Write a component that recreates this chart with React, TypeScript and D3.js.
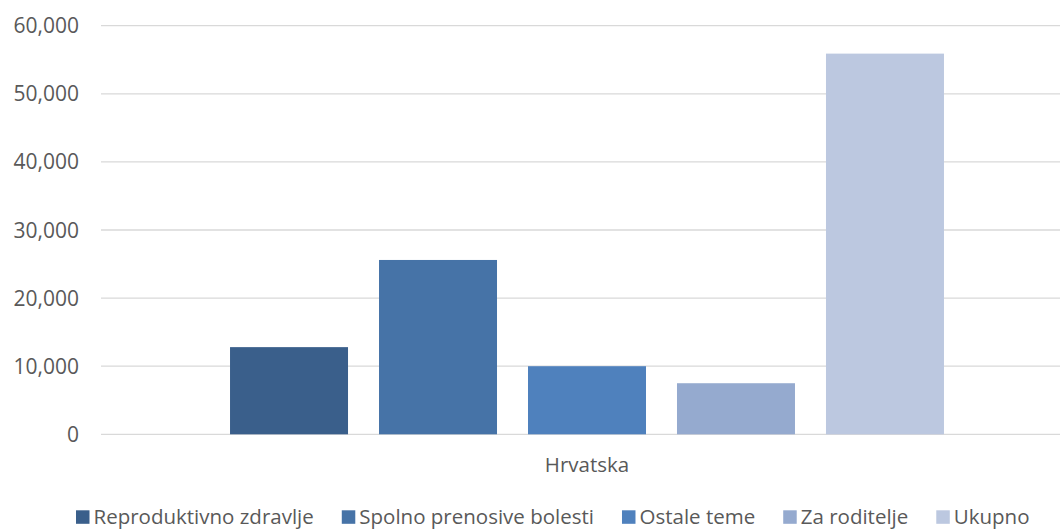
import React, { useEffect, useRef } from "react";
import * as d3 from "d3";

const categories = ["Hrvatska"];
const seriesNames = [
  "Reproduktivno zdravlje",
  "Spolno prenosive bolesti",
  "Ostale teme",
  "Za roditelje",
  "Ukupno",
];
const seriesValues = [12800, 25600, 10000, 7500, 55900];
const seriesColors = ["#3A5F8B", "#4673A7", "#4F81BD", "#95AACF", "#BCC8E0"];
const yTicks = [0, 10000, 20000, 30000, 40000, 50000, 60000];

const W = 1060;
const H = 530;
const FONT = "'Open Sans', sans-serif";
const TEXT = "#595959";

export default function App() {
  const ref = useRef<SVGSVGElement | null>(null);

  useEffect(() => {
    const svg = d3.select(ref.current);
    svg.selectAll("*").remove();

    const plotLeft = 101;
    const plotRight = 1073;
    const y = d3.scaleLinear().domain([0, 60000]).range([434.3, 25.7]);
    const x0 = d3.scaleBand().domain(categories).range([plotLeft, plotRight]).paddingOuter(0.1524).paddingInner(0);
    const x1 = d3
      .scaleBand()
      .domain(seriesNames)
      .range([0, x0.bandwidth()])
      .paddingInner(31 / 149)
      .paddingOuter(31 / 149 / 2);

    // gridlines
    svg
      .append("g")
      .selectAll("line")
      .data(yTicks)
      .join("line")
      .attr("x1", plotLeft)
      .attr("x2", W)
      .attr("y1", (d) => y(d))
      .attr("y2", (d) => y(d))
      .attr("stroke", "#D9D9D9")
      .attr("stroke-width", 1.3);

    // y labels
    svg
      .append("g")
      .selectAll("text")
      .data(yTicks)
      .join("text")
      .attr("x", 79)
      .attr("y", (d) => y(d))
      .attr("dy", "0.36em")
      .attr("text-anchor", "end")
      .attr("font-family", FONT)
      .attr("font-size", 21)
      .attr("fill", TEXT)
      .text((d) => d3.format(",")(d));

    // bars
    categories.forEach((cat) => {
      const g = svg.append("g").attr("transform", `translate(${x0(cat)},0)`);
      g.selectAll("rect")
        .data(seriesNames.map((n, i) => ({ n, v: seriesValues[i], c: seriesColors[i] })))
        .join("rect")
        .attr("x", (d) => x1(d.n)!)
        .attr("width", x1.bandwidth())
        .attr("y", (d) => y(d.v))
        .attr("height", (d) => y(0) - y(d.v))
        .attr("fill", (d) => d.c);

      svg
        .append("text")
        .attr("x", x0(cat)! + x0.bandwidth() / 2)
        .attr("y", 472)
        .attr("text-anchor", "middle")
        .attr("font-family", FONT)
        .attr("font-size", 20.5)
        .attr("fill", TEXT)
        .text(cat);
    });

    // legend
    const lg = svg.append("g");
    const items = seriesNames.map((n, i) => {
      const g = lg.append("g");
      g.append("rect").attr("width", 13.5).attr("height", 13.5).attr("y", -13.7).attr("fill", seriesColors[i]);
      const t = g
        .append("text")
        .attr("x", 17.5)
        .attr("font-family", FONT)
        .attr("font-size", 20.5)
        .attr("fill", TEXT)
        .text(n);
      const w = 17.5 + (t.node() as SVGTextElement).getComputedTextLength();
      return { g, w };
    });
    const gap = 28;
    let cx = 76;
    items.forEach((it) => {
      it.g.attr("transform", `translate(${cx},${524})`);
      cx += it.w + gap;
    });
  }, []);

  return (
    <svg
      ref={ref}
      width={W}
      height={H}
      style={{ display: "block", position: "absolute", top: 0, left: 0 }}
    />
  );
}
